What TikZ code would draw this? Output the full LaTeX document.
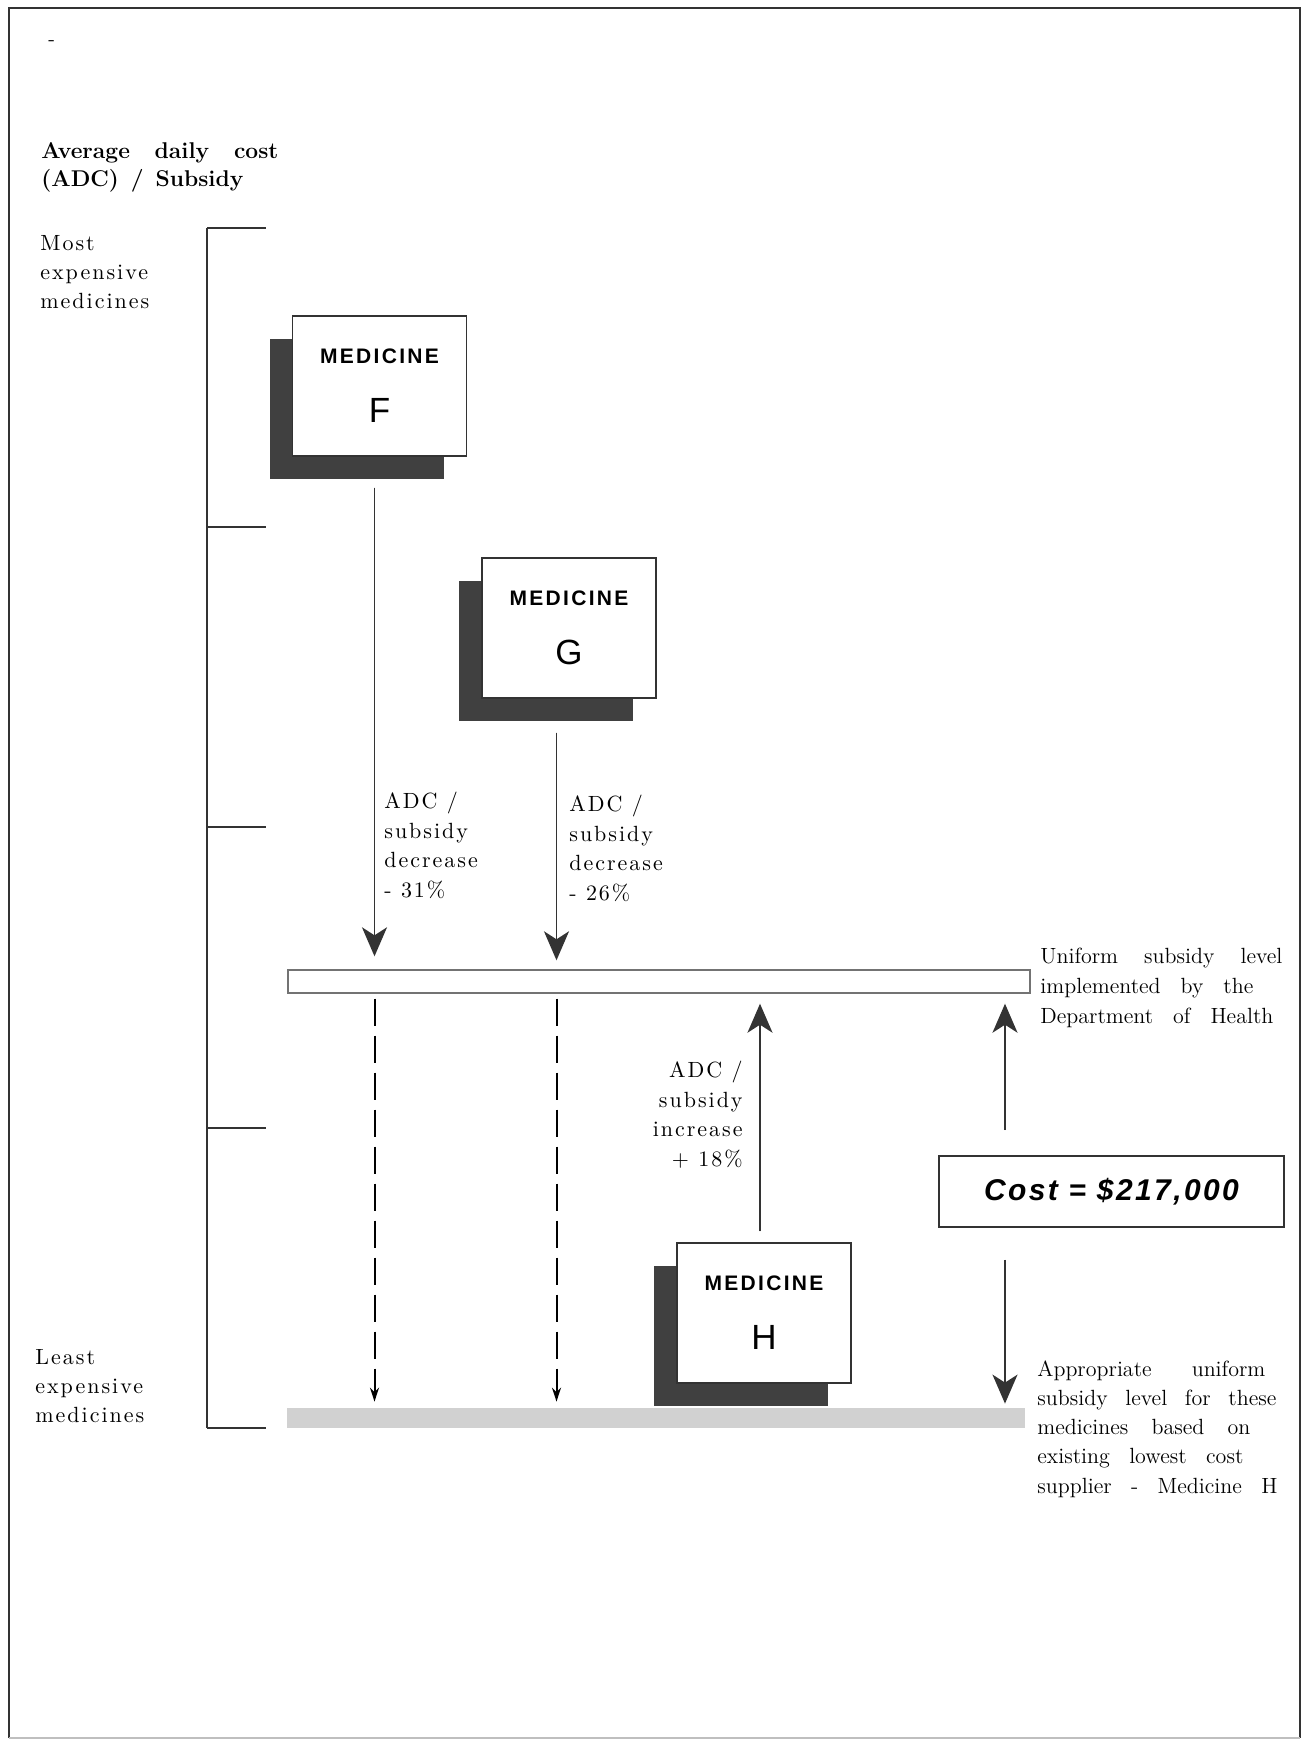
\documentclass[tikz,border=0pt]{standalone}
\usepackage{fontspec}
\usetikzlibrary{arrows.meta,shadows}

\newfontfamily\spacedrm[LetterSpace=9]{lmroman10-regular.otf}
\newfontfamily\medfont[LetterSpace=11]{Liberation Sans}
\newfontfamily\letterfont{Liberation Sans}
\newfontfamily\costfont[LetterSpace=8]{Liberation Sans}

\definecolor{ink}{gray}{0.2}
\definecolor{shade}{gray}{0.25}
\definecolor{barfill}{gray}{0.82}

% one line of text, spread to a width given in pixels
\newcommand\spreadrow[2]{\makebox[\dimexpr#1pt/2\relax][s]{#2}}

\tikzset{
  medbox/.style={draw=ink, line width=0.7pt, fill=white, inner sep=0pt,
    minimum width=87pt, minimum height=70pt,
    general shadow={fill=shade, shadow xshift=-11.5pt, shadow yshift=-11.5pt}},
  medword/.style={anchor=base, inner sep=0pt, font=\medfont\bfseries\fontsize{10.5}{12}\selectfont},
  medletter/.style={anchor=base, inner sep=0pt, font=\letterfont\fontsize{17.5}{20}\selectfont},
  bigarrow/.style={-{Stealth[length=14.5pt,width=12.5pt,inset=4pt]}, draw=ink, fill=ink, line width=0.9pt},
  droparrow/.style={-{Stealth[length=7pt,width=4.5pt]}, draw=black, line width=1pt,
    dash pattern=on 13.5pt off 5pt, shorten <=2.5pt, shorten >=3pt},
  heading/.style={anchor=base west, inner sep=0pt, align=left, font=\bfseries\fontsize{11.4}{14}\selectfont},
  axislabel/.style={anchor=base west, inner sep=0pt, align=left, font=\spacedrm\fontsize{11}{14.5}\selectfont},
  arrowlabel/.style={anchor=base west, inner sep=0pt, align=left, font=\spacedrm\fontsize{11}{14.75}\selectfont},
  sidetext/.style={anchor=base west, inner sep=0pt, align=left, font=\fontsize{11}{15}\selectfont},
  levelbar/.style={draw=black!55, line width=0.7pt, fill=white, inner sep=0pt},
  lowbar/.style={fill=barfill, inner sep=0pt},
  costbox/.style={draw=ink, line width=0.8pt, inner sep=0pt, minimum width=172.5pt, minimum height=35.5pt,
    font=\costfont\bfseries\itshape\fontsize{15}{18}\selectfont}
}

\begin{document}
\begin{tikzpicture}[x=0.5pt,y=-0.5pt]
  \useasboundingbox (0,0) rectangle (1308,1742);
  % frame
  \draw[ink, line width=0.8pt] (9,1738) -- (9,8) -- (1300,8) -- (1300,1738);
  \draw[black!25, line width=0.8pt] (9,1738) -- (1300,1738);
  \node[anchor=base west, inner sep=0pt] (mark) at (48,45) {-};

  % heading and cost axis (multi-line nodes sit on their last baseline)
  \node[heading] (title) at (41,186) {\spreadrow{237}{Average daily cost}\\\spreadrow{202}{(ADC) / Subsidy}};
  \node[axislabel] (most) at (40,308) {Most\\expensive\\medicines};
  \node[axislabel] (least) at (35,1422) {Least\\expensive\\medicines};
  \draw[ink, line width=0.75pt] (207,228) -- (207,1428);
  \foreach \ty in {228,527,827,1128,1428}
    \draw[ink, line width=0.75pt] (207,\ty) -- (266,\ty);

  % subsidy levels
  \node[levelbar, minimum width=371pt, minimum height=11.5pt] (uniform) at (659,981.5) {};
  \node[lowbar, minimum width=369pt, minimum height=10pt] (lowest) at (656,1418) {};

  % medicines
  \node[medbox] (medF) at (379.5,386) {};
  \node[medword] (medFword) at ([yshift=11.5pt]medF.center) {MEDICINE};
  \node[medletter] (medFletter) at ([yshift=-18pt]medF.center) {F};
  \node[medbox] (medG) at (569,628) {};
  \node[medword] (medGword) at ([yshift=11.5pt]medG.center) {MEDICINE};
  \node[medletter] (medGletter) at ([yshift=-18pt]medG.center) {G};
  \node[medbox] (medH) at (764,1313) {};
  \node[medword] (medHword) at ([yshift=11.5pt]medH.center) {MEDICINE};
  \node[medletter] (medHletter) at ([yshift=-18pt]medH.center) {H};

  \node[costbox] (cost) at (1111.5,1191.5) {Cost = \$217,000};

  % arrows
  \coordinate (colF) at ([xshift=-2.5pt]medF.south);
  \coordinate (colG) at ([xshift=-6.25pt]medG.south);
  \coordinate (colH) at ([xshift=-2pt]medH.north);
  \coordinate (colC) at (1005,1191.5);

  \draw[bigarrow, shorten <=15.5pt, shorten >=6.5pt] (colF) -- (colF |- uniform.north);
  \draw[bigarrow, shorten <=17pt, shorten >=4.5pt] (colG) -- (colG |- uniform.north);
  \draw[droparrow] (colF |- uniform.south) -- (colF |- lowest.north);
  \draw[droparrow] (colG |- uniform.south) -- (colG |- lowest.north);
  \draw[bigarrow, shorten <=5.5pt, shorten >=5pt] (colH) -- (colH |- uniform.south);
  \draw[bigarrow, shorten <=12.5pt, shorten >=5pt] (colC |- cost.north) -- (colC |- uniform.south);
  \draw[bigarrow, shorten <=16pt, shorten >=2pt] (colC |- cost.south) -- (colC |- lowest.north);

  % labels
  \node[arrowlabel] (dropF) at (384,897) {ADC /\\subsidy\\decrease\\- 31\%};
  \node[arrowlabel] (dropG) at (569,900) {ADC /\\subsidy\\decrease\\- 26\%};
  \node[arrowlabel, anchor=base east, align=right] (riseH) at (743,1166) {ADC /\\subsidy\\increase\\+ 18\%};
  \node[sidetext] (uniformtext) at (1040,1023) {\spreadrow{242}{Uniform subsidy level}\\\spreadrow{213}{implemented by the}\\\spreadrow{233}{Department of Health}};
  \node[sidetext, font=\fontsize{11}{14.6}\selectfont] (lowesttext) at (1037,1493) {\spreadrow{228}{Appropriate uniform}\\\spreadrow{239}{subsidy level for these}\\\spreadrow{213}{medicines based on}\\\spreadrow{206}{existing lowest cost}\\\spreadrow{240}{supplier - Medicine H}};
\end{tikzpicture}
\end{document}
